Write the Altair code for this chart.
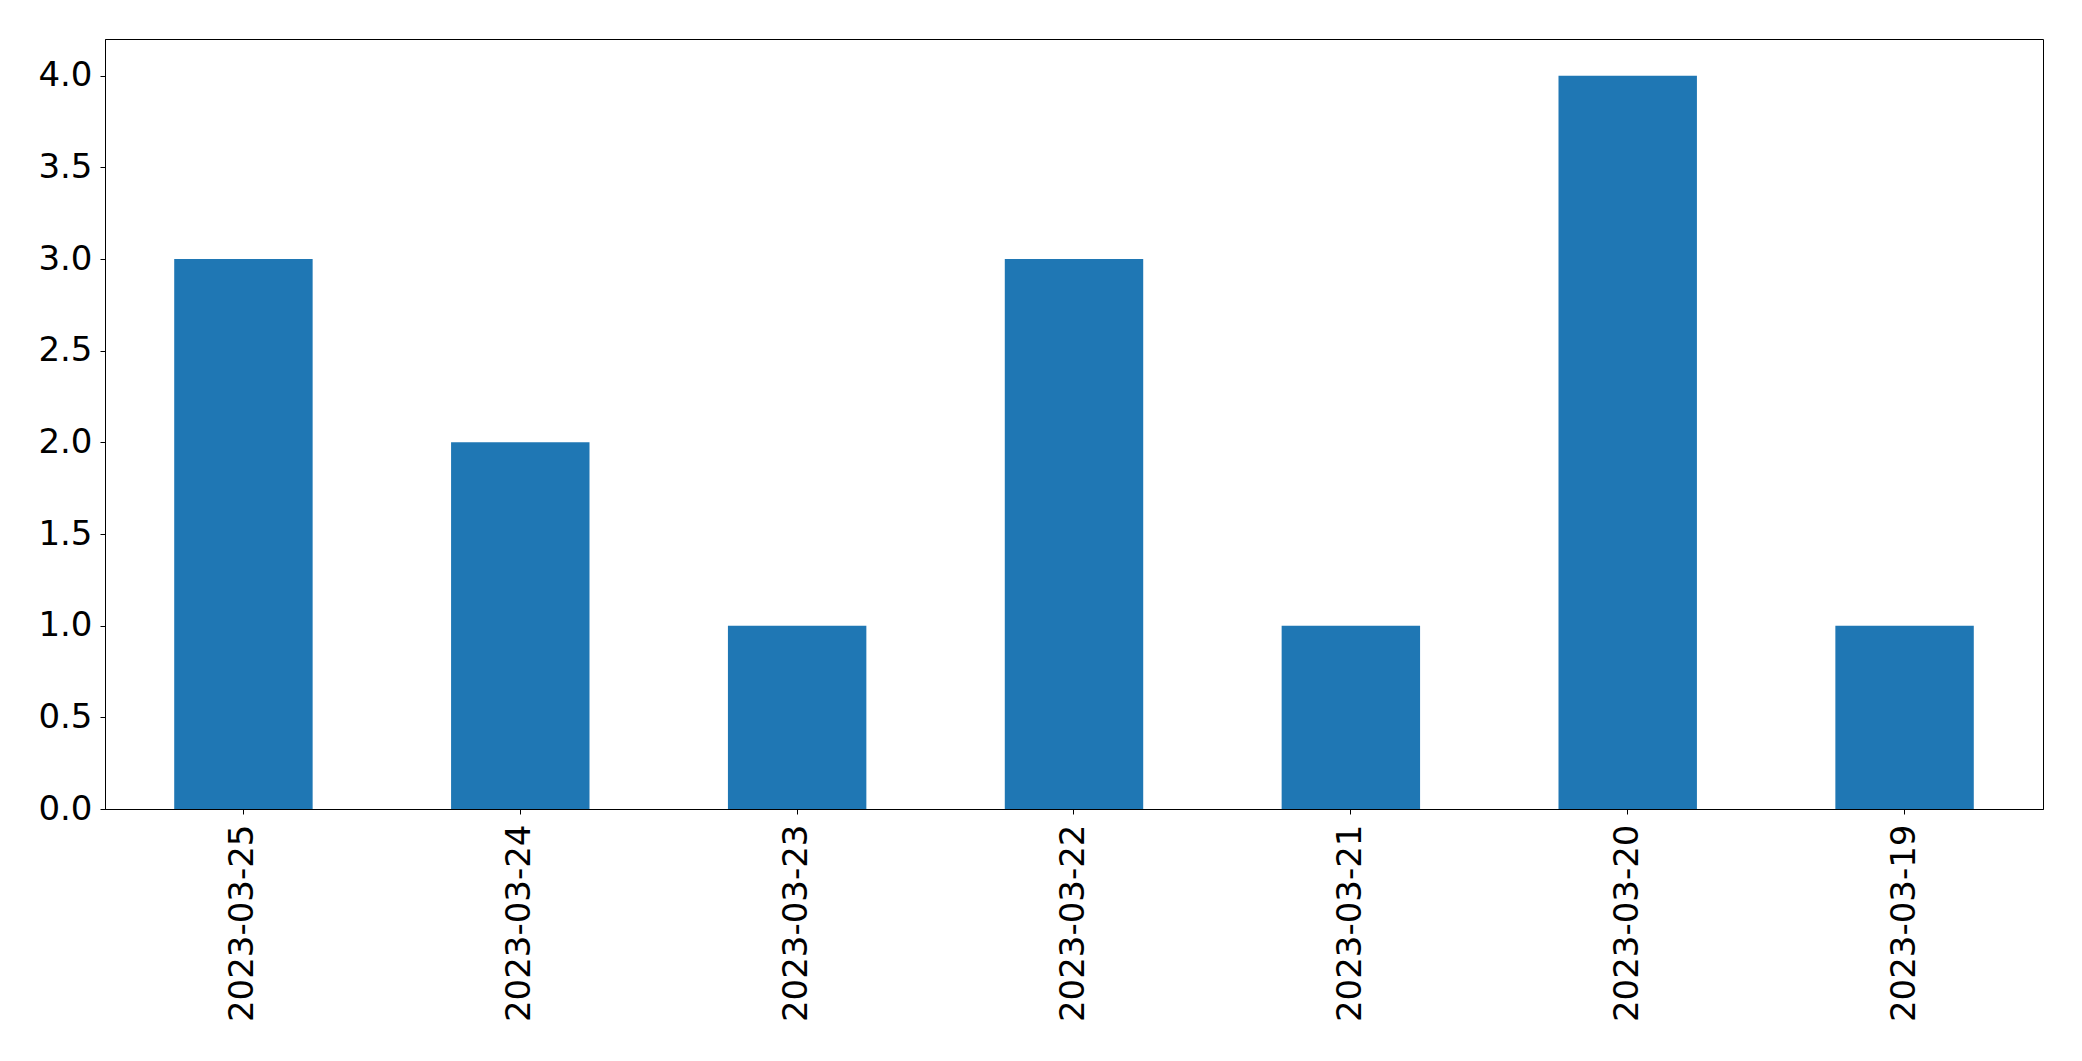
import altair as alt
import pandas as pd

dates = ["2023-03-25", "2023-03-24", "2023-03-23", "2023-03-22",
         "2023-03-21", "2023-03-20", "2023-03-19"]
counts = [3, 2, 1, 3, 1, 4, 1]
y_ticks = [0.0, 0.5, 1.0, 1.5, 2.0, 2.5, 3.0, 3.5, 4.0]

df = pd.DataFrame({"date": dates, "count": counts})

FONT = "DejaVu Sans"

chart = alt.Chart(df).mark_bar(color="#1f77b4").encode(
    x=alt.X("date:N", sort=None, title=None,
            scale=alt.Scale(paddingInner=0.5, paddingOuter=0.25),
            axis=alt.Axis(labelAngle=270, labelFontSize=34, labelFont=FONT,
                          labelColor="black", tickColor="black", tickSize=5,
                          tickWidth=1, domainColor="black", domainWidth=1,
                          labelPadding=10, labelLimit=0, grid=False)),
    y=alt.Y("count:Q", title=None,
            scale=alt.Scale(domain=[0, 4.2], nice=False, zero=True),
            axis=alt.Axis(values=y_ticks, format=".1f", labelFontSize=34,
                          labelFont=FONT, labelColor="black", tickColor="black",
                          tickSize=5, tickWidth=1, domainColor="black",
                          domainWidth=1, labelPadding=8, grid=False)),
).properties(
    width=1938, height=770,
    background="white",
    autosize=alt.AutoSizeParams(type="none"),
    padding={"left": 97, "top": 31, "right": 30, "bottom": 240},
).configure_view(
    stroke="black", strokeWidth=1
)

chart.save("out.html", embed_options={"renderer": "svg", "actions": False})
